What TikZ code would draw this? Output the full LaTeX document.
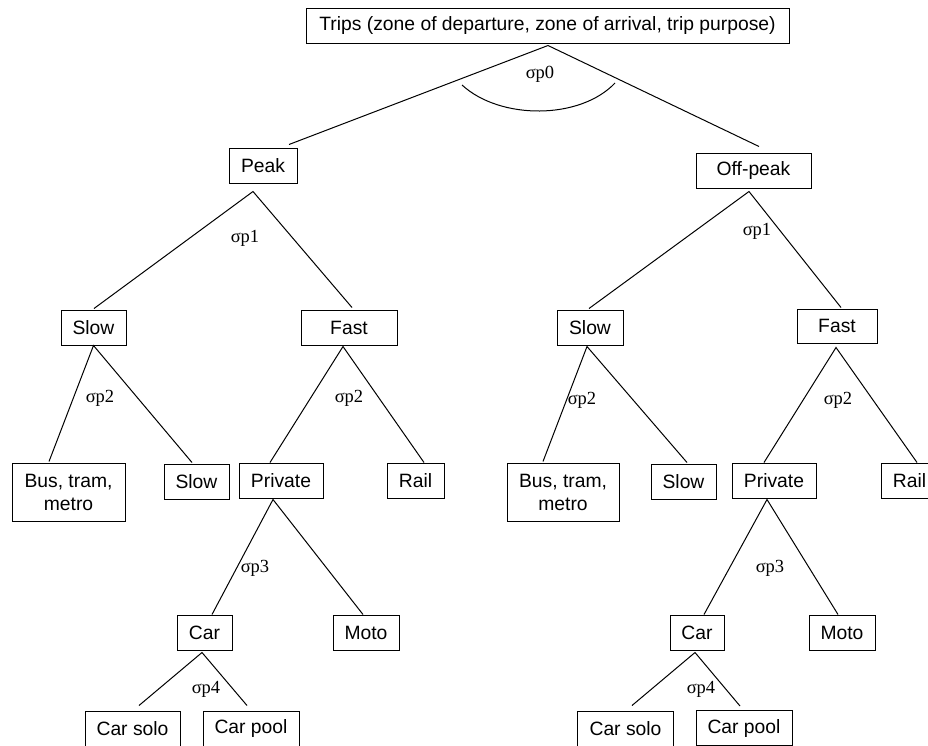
\documentclass[tikz,border=0pt]{standalone}
\usepackage{fontspec}
\setmainfont{Liberation Sans}
\newfontfamily\sigmafont{Liberation Serif}
\usetikzlibrary{calc}

\begin{document}
\begin{tikzpicture}[x=1pt, y=-1pt,
    box/.style={draw, line width=1pt, inner sep=0pt, minimum height=35pt,
        align=center, font=\fontsize{19.3}{23}\selectfont},
    sig/.style={inner sep=0pt, font=\sigmafont\fontsize{18.5}{20}\selectfont},
    branch/.style={line width=1pt}]
    % Canvas
    \useasboundingbox (0,0) rectangle (928,745);
    \fill[white] (0,0) rectangle (928,745);

    % Top level
    \node[box, minimum width=483pt] (trips) at (547.5,25.5)
        {Trips (zone of departure, zone of arrival, trip purpose)};
    \node[box, minimum width=68pt] (peak) at (263,165.5) {Peak};
    \node[box, minimum width=115pt] (offpeak) at (753.5,170.5) {Off-peak};

    % Speed level
    \node[box, minimum width=65pt] (slowA) at (93.5,327.5) {Slow};
    \node[box, minimum width=96pt] (fastA) at (349,327.5) {Fast};
    \node[box, minimum width=66pt] (slowB) at (590,327.5) {Slow};
    \node[box, minimum width=80pt, minimum height=34pt] (fastB) at (837,326) {Fast};

    % Mode level
    \node[box, minimum width=113pt, minimum height=58pt] (busA) at (68.5,492) {Bus, tram,\\metro};
    \node[box, minimum width=65pt] (slowA2) at (196.5,481.5) {Slow};
    \node[box, minimum width=84pt] (privA) at (281,480.5) {Private};
    \node[box, minimum width=57pt] (railA) at (415.5,480.5) {Rail};
    \node[box, minimum width=112pt, minimum height=58pt] (busB) at (563,492) {Bus, tram,\\metro};
    \node[box, minimum width=65pt] (slowB2) at (683.5,481.5) {Slow};
    \node[box, minimum width=84pt] (privB) at (774,480.5) {Private};
    \node[box, minimum width=57pt] (railB) at (909.5,480.5) {Rail};

    % Vehicle level
    \node[box, minimum width=55pt] (carA) at (204.5,632.5) {Car};
    \node[box, minimum width=66pt] (motoA) at (366,632.5) {Moto};
    \node[box, minimum width=54pt] (carB) at (697,632.5) {Car};
    \node[box, minimum width=66pt] (motoB) at (842,632.5) {Moto};

    % Occupancy level
    \node[box, minimum width=95pt] (soloA) at (132.5,728.5) {Car solo};
    \node[box, minimum width=96pt] (poolA) at (251,728.5) {Car pool};
    \node[box, minimum width=96pt] (soloB) at (625.5,728.5) {Car solo};
    \node[box, minimum width=96pt] (poolB) at (744,728) {Car pool};

    % Branches
    \draw[branch] ($(peak.north)+(26,-3)$) -- ($(trips.south)+(0.5,2)$) -- ($(offpeak.north)+(5.5,-6)$);
    \draw[branch] ($(slowA.north)+(0.5,-1)$) -- ($(peak.south)+(-10,8)$) -- ($(fastA.north)+(3,-2)$);
    \draw[branch] ($(slowB.north)+(-1,-1)$) -- ($(offpeak.south)+(-4.5,3)$) -- ($(fastB.north)+(4,-1)$);
    \draw[branch] ($(busA.north)+(-19.5,-1)$) -- (slowA.south) -- ($(slowA2.north)+(-4.5,-1)$);
    \draw[branch] ($(privA.north)+(-11,0)$) -- ($(fastA.south)+(-6,1)$) -- ($(railA.north)+(8.5,0)$);
    \draw[branch] ($(busB.north)+(-20,-1)$) -- ($(slowB.south)+(-3,1)$) -- ($(slowB2.north)+(3.5,-1)$);
    \draw[branch] ($(privB.north)+(-10,0)$) -- ($(fastB.south)+(-1,4)$) -- ($(railB.north)+(7.5,0)$);
    \draw[branch] ($(carA.north)+(7.5,0)$) -- ($(privA.south)+(-8,1)$) -- ($(motoA.north)+(-3,0)$);
    \draw[branch] ($(carB.north)+(7,0)$) -- ($(privB.south)+(-7,1)$) -- ($(motoB.north)+(-4,0)$);
    \draw[branch] ($(soloA.north)+(6.5,-5)$) -- ($(carA.south)+(-2.5,2)$) -- ($(poolA.north)+(-4,-5)$);
    \draw[branch] ($(soloB.north)+(6.5,-5)$) -- ($(carB.south)+(-2,2)$) -- ($(poolB.north)+(-4,-4)$);

    % Nest arc under the root
    \draw[branch] (462,85) .. controls (500,120) and (580,120) .. (615,83);

    % Scale parameters
    \node[sig] (s0) at (540,74) {σp0};
    \node[sig] (s1A) at (245,238) {σp1};
    \node[sig] (s1B) at (757,231) {σp1};
    \node[sig] (s2A) at (100,398) {σp2};
    \node[sig] (s2B) at (349,398) {σp2};
    \node[sig] (s2C) at (582,400) {σp2};
    \node[sig] (s2D) at (838,400) {σp2};
    \node[sig] (s3A) at (255,568) {σp3};
    \node[sig] (s3B) at (770,568) {σp3};
    \node[sig] (s4A) at (206,689) {σp4};
    \node[sig] (s4B) at (701,689) {σp4};
\end{tikzpicture}
\end{document}
